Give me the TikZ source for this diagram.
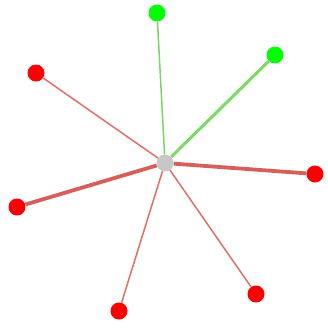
\documentclass[tikz,border=0pt]{standalone}
\begin{document}
\begin{tikzpicture}[x=1pt,y=-1pt,
  dot/.style={circle,inner sep=0pt,minimum size=17pt},
  rdot/.style={dot,fill=red},
  gdot/.style={dot,fill=green},
  hub/.style={dot,fill=black!22},
  redthin/.style={draw={rgb,255:red,225;green,110;blue,105},line width=1.5pt},
  redthick/.style={draw={rgb,255:red,215;green,95;blue,90},line width=3.8pt},
  greenthin/.style={draw={rgb,255:red,120;green,215;blue,100},line width=1.5pt},
  greenthick/.style={draw={rgb,255:red,120;green,220;blue,100},line width=3pt}]
\useasboundingbox (0,0) rectangle (328,327);
\node[hub] (c) at (165,163) {};
\node[gdot] (g1) at (157,13) {};
\node[gdot] (g2) at (275,55) {};
\node[rdot] (r1) at (36,73) {};
\node[rdot] (r2) at (315,174) {};
\node[rdot] (r3) at (17,207) {};
\node[rdot] (r4) at (119,311) {};
\node[rdot] (r5) at (256,294) {};
\draw[greenthin] (c) -- (g1);
\draw[greenthick] (c) -- (g2);
\draw[redthin] (c) -- (r1);
\draw[redthick] (c) -- (r2);
\draw[redthick] (c) -- (r3);
\draw[redthin] (c) -- (r4);
\draw[redthin] (c) -- (r5);
\end{tikzpicture}
\end{document}
